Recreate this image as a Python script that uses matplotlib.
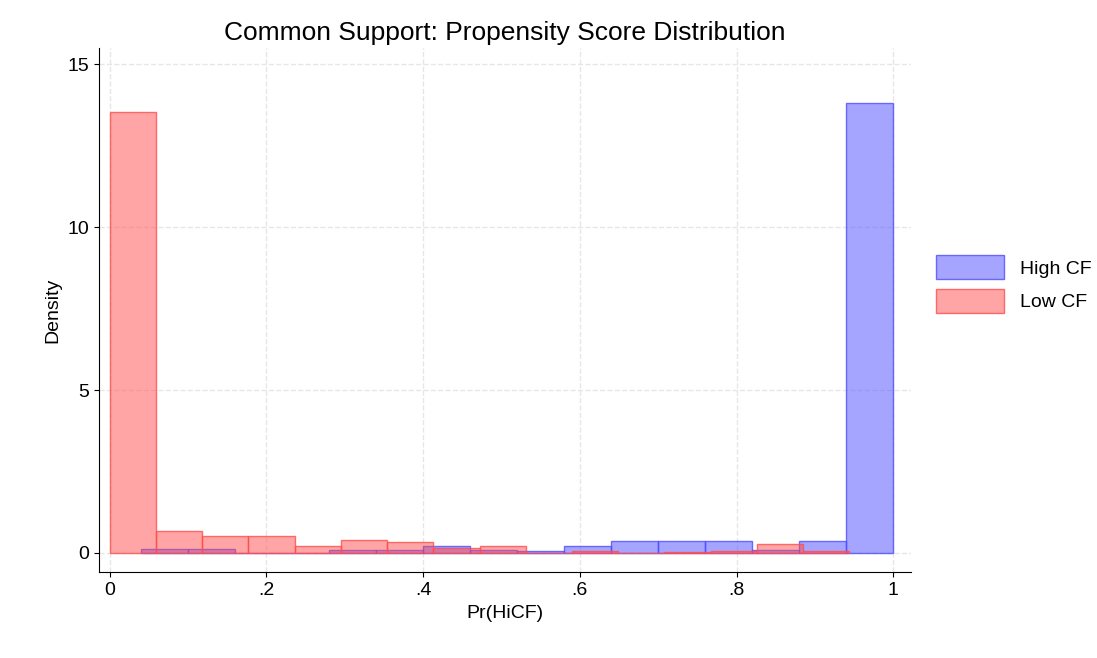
import matplotlib
matplotlib.use("Agg")
import matplotlib.pyplot as plt
import numpy as np

plt.rcParams['font.family'] = ['Liberation Sans', 'DejaVu Sans']

high_start, high_width = 0.04, 0.06
high_vals = [0.12, 0.12, 0.0, 0.0, 0.1, 0.1, 0.22, 0.1, 0.05, 0.22, 0.37, 0.37, 0.37, 0.08, 0.37, 13.8]
low_start, low_width = 0.0, 0.059
low_vals = [13.55, 0.66, 0.51, 0.51, 0.2, 0.4, 0.32, 0.15, 0.2, 0.0, 0.05, 0.0, 0.02, 0.05, 0.27, 0.05]

fig = plt.figure(figsize=(10.97, 6.58), dpi=100)
ax = fig.add_axes([0.09, 0.13, 0.74, 0.797])

hx = high_start + high_width * np.arange(len(high_vals))
lx = low_start + low_width * np.arange(len(low_vals))
ax.bar(hx, high_vals, width=high_width, align='edge', color=(0.3, 0.3, 1, 0.5),
       edgecolor=(0.3, 0.3, 1, 0.8), linewidth=1, label='High CF')
ax.bar(lx, low_vals, width=low_width, align='edge', color=(1, 0.3, 0.3, 0.5),
       edgecolor=(1, 0.3, 0.3, 0.8), linewidth=1, label='Low CF')

ax.set_xlim(-0.014, 1.022)
ax.set_ylim(-0.6, 15.5)
ax.set_xticks([0, .2, .4, .6, .8, 1])
ax.set_xticklabels(['0', '.2', '.4', '.6', '.8', '1'])
ax.set_yticks([0, 5, 10, 15])
ax.tick_params(labelsize=14)
ax.grid(True, linestyle='--', color='#e6e6e6', linewidth=1)
ax.set_axisbelow(True)
for s in ['top', 'right']:
    ax.spines[s].set_visible(False)
ax.set_xlabel('Pr(HiCF)', fontsize=14)
ax.set_ylabel('Density', fontsize=14)
ax.set_title('Common Support: Propensity Score Distribution', fontsize=19)
ax.legend(loc='center left', bbox_to_anchor=(1.01, 0.55), frameon=False, fontsize=14,
          handlelength=3.5, handleheight=1.5)
fig.savefig('out.png')
